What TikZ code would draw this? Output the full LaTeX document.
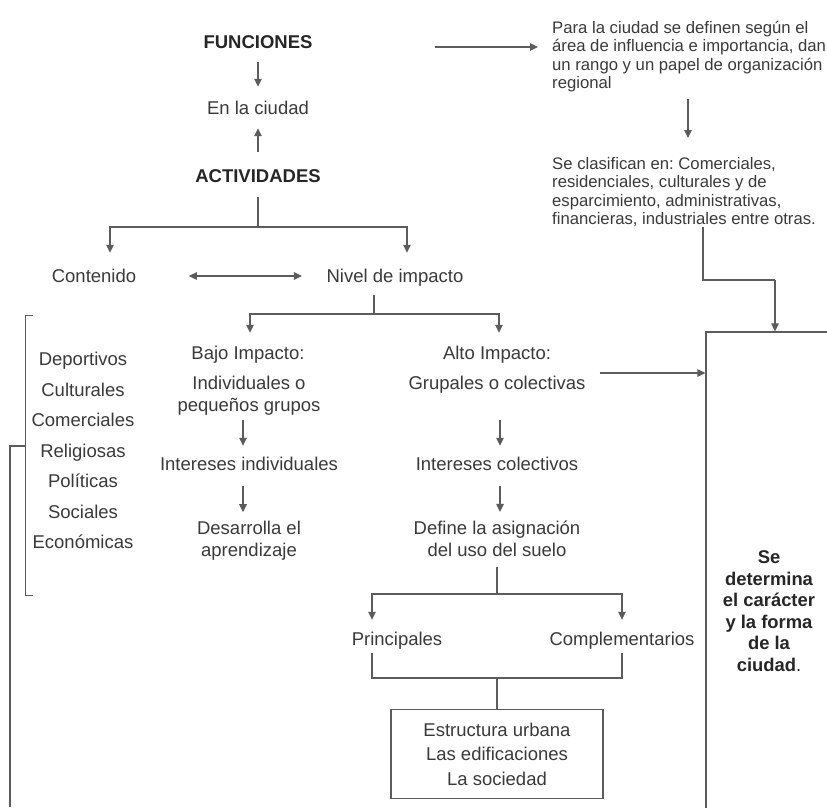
\documentclass[tikz,border=0pt]{standalone}
\usepackage{fontspec}
\setmainfont{Liberation Sans}
\usetikzlibrary{arrows.meta}
\frenchspacing

\definecolor{txtgray}{HTML}{3A3A3A}
\definecolor{linegray}{HTML}{5C5C5C}

\tikzset{
  flecha/.tip={Triangle[length=8pt,width=7.5pt]},
  lbl/.style={inner sep=0pt, text=txtgray, text height=13.5pt, text depth=4pt,
    font=\fontsize{18.5}{22}\selectfont},
  blk/.style={inner sep=0pt, text=txtgray, align=center,
    font=\fontsize{18.5}{22}\selectfont},
  ttl/.style={lbl, text=black!85, font=\fontsize{18.5}{22}\selectfont\bfseries},
  nota/.style={inner sep=0pt, anchor=north west, align=left, text=txtgray,
    font=\fontsize{16.7}{18.4}\selectfont},
  conn/.style={draw=linegray, line width=1.2pt},
  arr/.style={conn, -flecha},
  dblarr/.style={conn, flecha-flecha},
}

\begin{document}
\begin{tikzpicture}[x=1pt,y=-1pt]

  \clip (0,0) rectangle (827,807);
  \fill[white] (0,0) rectangle (827,807);

  \begin{scope}[every node/.style={lbl}]
    \node[ttl] (fun)    at (258,44)  {FUNCIONES};
    \node      (ciudad) at (258,110) {En la ciudad};
    \node[ttl] (act)    at (258,178) {ACTIVIDADES};
    \node      (cont)   at (94,278)  {Contenido};
    \node      (nivel)  at (395,278) {Nivel de impacto};
    \node      (bajo)   at (248,355) {Bajo Impacto:};
    \node      (alto)   at (497,355) {Alto Impacto:};
    \node      (grup)   at (497,385) {Grupales o colectivas};
    \node      (intind) at (249,466) {Intereses individuales};
    \node      (intcol) at (497,466) {Intereses colectivos};
    \node      (princ)  at (397,641) {Principales};
    \node      (compl)  at (622,641) {Complementarios};

    % tipos de contenido
    \foreach \tipo [count=\i] in {Deportivos, Culturales, Comerciales,
        Religiosas, Políticas, Sociales, Económicas}
      \node (tipo\i) at (83,{330.5+30.5*\i}) {\tipo};
  \end{scope}

  \begin{scope}[every node/.style={blk}]
    \node (indiv)  at (249,396) {Individuales o\\pequeños grupos};
    \node (desarr) at (249,541) {Desarrolla el\\aprendizaje};
    \node (defin)  at (497,539) {Define la asignación\\del uso del suelo};
    \node[draw=linegray, line width=1.2pt, minimum width=212pt, minimum height=89pt,
          font=\fontsize{18.5}{24.5}\selectfont]
          (estr) at (497,754) {Estructura urbana\\Las edificaciones\\La sociedad};
  \end{scope}

  \node[nota] (para) at (552,21) {Para la ciudad se definen según el\\
    área de influencia e importancia, dan\\un rango y un papel de organización\\regional};
  \node[nota] (clas) at (552,157) {Se clasifican en: Comerciales,\\
    residenciales, culturales y de\\esparcimiento, administrativas,\\
    financieras, industriales entre otras.};

  \node[draw=linegray, line width=1.2pt, minimum width=126pt, minimum height=558pt,
        align=center, text=black!85, font=\fontsize{18.4}{21.5}\selectfont\bfseries]
        (det) at (769,611) {Se\\determina\\el carácter\\y la forma\\de la\\ciudad{\mdseries.}};

  \coordinate (split1) at (258,227);
  \coordinate (split2) at (374,314);
  \coordinate (split3) at (497,594);
  \coordinate (join)   at (497,678);
  \coordinate (bend)   at (775,280);

  % corchete de la lista
  \draw[conn, line width=1pt] (33,315) -| (25,595) -- (33,595);
  \draw[conn] (25,446) -| (10,807);

  \path (fun) edge[arr, shorten <=9.25pt, shorten >=14.25pt] (ciudad);
  \path (act) edge[arr, shorten <=17.25pt, shorten >=9.25pt] (ciudad);
  \draw[conn, shorten <=10.25pt] (act) -- (split1);
  \draw[arr, shorten >=16.25pt] (split1) -| ([xshift=16pt]cont.north);
  \draw[arr, shorten >=16.25pt] (split1) -| ([xshift=12pt]nivel.north);
  \draw[dblarr, shorten <=52.5pt, shorten >=24.5pt] ([yshift=2pt]cont.east) -- ([yshift=2pt]nivel.west);

  \draw[conn, shorten <=8.25pt] ([xshift=-21pt]nivel.south) -- (split2);
  \draw[arr, shorten >=13.25pt] (split2) -| ([xshift=2pt]bajo.north);
  \draw[arr, shorten >=13.25pt] (split2) -| ([xshift=2pt]alto.north);

  \path ([xshift=-6pt]indiv.south) edge[arr, shorten <=4.5pt, shorten >=11.25pt] ([xshift=-6pt]intind.north);
  \path ([xshift=-6pt]intind.south) edge[arr, shorten <=11.25pt, shorten >=9pt] ([xshift=-6pt]desarr.north);
  \path ([xshift=3pt]grup.south) edge[arr, shorten <=26.25pt, shorten >=11.25pt] ([xshift=3pt]intcol.north);
  \path ([xshift=3pt]intcol.south) edge[arr, shorten <=11.25pt, shorten >=9pt] ([xshift=3pt]defin.north);
  \draw[arr, shorten <=14pt] ([yshift=12pt]grup.east) -- ([yshift=12pt]grup.east -| det.west);

  \draw[conn, shorten <=9.5pt] (defin) -- (split3);
  \draw[arr, shorten >=12.25pt] (split3) -| ([xshift=-25pt]princ.north);
  \draw[arr, shorten >=12.25pt] (split3) -| (compl.north);
  \draw[conn, shorten <=3.25pt, shorten >=3.25pt] ([xshift=-25pt]princ.south) |- (join) -| (compl.south);
  \draw[conn] (join) -- (estr);

  \draw[arr, shorten <=122.5pt, shorten >=14pt] ([yshift=-3pt]fun.east) -- ([yshift=-3pt]fun.east -| para.west);
  \path ([xshift=136pt]para.south west) edge[arr, shorten <=6.5pt, shorten >=19pt] ([xshift=136pt]clas.north west);
  \draw[conn] ([xshift=151pt]clas.south west) |- (bend);
  \draw[arr] (bend) -- (bend |- det.north);

\end{tikzpicture}
\end{document}
